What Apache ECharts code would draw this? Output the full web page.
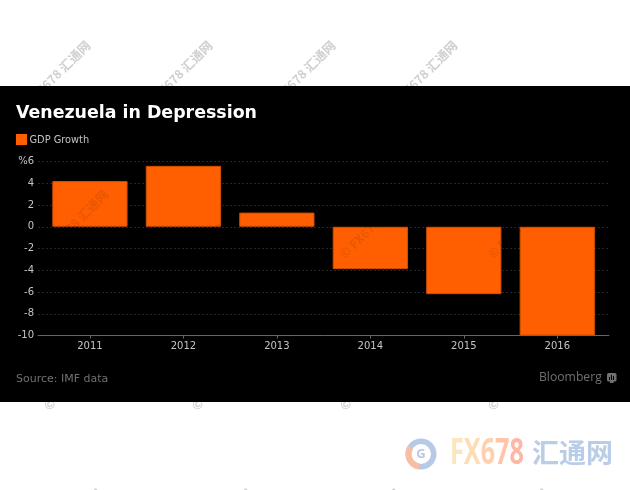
<!DOCTYPE html>
<html>
<head>
<meta charset="utf-8">
<style>
  html, body { margin: 0; padding: 0; background: #fff; }
  #chart { width: 630px; height: 490px; }
</style>
<script src="https://cdn.jsdelivr.net/npm/echarts@6/dist/echarts.min.js"></script>
</head>
<body>
<div id="chart"></div>
<script>
const years = ["2011", "2012", "2013", "2014", "2015", "2016"];
const gdpGrowth = [4.2, 5.6, 1.3, -3.9, -6.2, -10];
const yTicks = [-10, -8, -6, -4, -2, 0, 2, 4, 6];
const FONT = "DejaVu Sans";
const ORANGE = "#ff5f00";

const chart = echarts.init(document.getElementById("chart"), null, { renderer: "canvas" });

// page stamp, anchored at the end of the text and running up to the right
function stamp(x, y, overBars) {
  return {
    type: "text",
    x: x,
    y: y,
    rotation: Math.PI / 4,
    z: overBars ? 20 : -20,
    silent: true,
    style: {
      text: "© FX678 汇通网",
      font: "bold 12.5px 'Noto Sans CJK SC'",
      fill: overBars ? "rgba(0,0,0,0.09)" : "#d0d0d0",
      align: "right",
      verticalAlign: "middle",
    },
  };
}

const stamps = [];
[88, 210, 333, 455].forEach((x) => stamps.push(stamp(x, 43, false)));
[106, 256, 406, 554].forEach((x) => stamps.push(stamp(x, 192, true)));
[110, 258, 406, 554].forEach((x) => stamps.push(stamp(x, 344, false)));
[100, 250, 398, 546].forEach((x) => stamps.push(stamp(x, 491, false)));

// letter colours of the logo run from pale yellow to salmon
const logoRich = {
  a: { fill: "#fde6bb", font: "bold 36px 'Open Sans'" },
  b: { fill: "#fedcb4", font: "bold 36px 'Open Sans'" },
  c: { fill: "#fed0ad", font: "bold 36px 'Open Sans'" },
  d: { fill: "#ffc4a9", font: "bold 36px 'Open Sans'" },
  e: { fill: "#ffb7a5", font: "bold 36px 'Open Sans'" },
};

chart.setOption({
  backgroundColor: "#fff",
  animation: false,
  grid: [
    { left: 38, right: 21, top: 161.5, height: 174 },
    { left: 43.2, right: 26, top: 161.5, height: 174 },
  ],
  xAxis: [
    {
      gridIndex: 0,
      type: "value",
      min: 0,
      max: 1,
      axisLine: { onZero: false, lineStyle: { color: "#666", width: 1 } },
      axisTick: { show: false },
      axisLabel: { show: false },
      splitLine: { show: false },
    },
    {
      gridIndex: 1,
      type: "category",
      data: years,
      position: "bottom",
      axisLine: { show: false, onZero: false },
      axisTick: { show: true, alignWithLabel: true, length: 3, lineStyle: { color: "#666" } },
      axisLabel: { color: "#c4c4c4", fontFamily: FONT, fontSize: 10, margin: 6 },
    },
  ],
  yAxis: [
    {
      gridIndex: 0,
      type: "value",
      min: yTicks[0],
      max: yTicks[yTicks.length - 1],
      interval: 2,
      axisLine: { show: false },
      axisTick: { show: false },
      axisLabel: {
        color: "#c4c4c4",
        fontFamily: FONT,
        fontSize: 10,
        margin: 4,
        formatter: (v) => (v === 6 ? "%6" : String(v)),
      },
      splitLine: { lineStyle: { color: "#262626", type: [2, 2], width: 1 } },
    },
    {
      gridIndex: 1,
      type: "value",
      min: yTicks[0],
      max: yTicks[yTicks.length - 1],
      interval: 2,
      show: false,
      splitLine: { show: false },
    },
  ],
  series: [
    {
      name: "GDP Growth",
      type: "bar",
      xAxisIndex: 1,
      yAxisIndex: 1,
      data: gdpGrowth,
      barCategoryGap: "19.5%",
      z: 5,
      itemStyle: { color: ORANGE, borderColor: "#d04e00", borderWidth: 1 },
    },
  ],
  graphic: [
    ...stamps,
    { type: "rect", z: -10, silent: true, shape: { x: 0, y: 86, width: 630, height: 316 }, style: { fill: "#000" } },
    { type: "rect", z: 10, shape: { x: 16, y: 134, width: 11, height: 11 }, style: { fill: ORANGE } },
    { type: "text", z: 10, x: 16, y: 113.5, style: { text: "Venezuela in Depression", font: "bold 17.4px 'DejaVu Sans'", fill: "#fff", verticalAlign: "middle" } },
    { type: "text", z: 10, x: 29.5, y: 140, style: { text: "GDP Growth", font: "9.8px 'DejaVu Sans'", fill: "#c4c4c4", verticalAlign: "middle" } },
    { type: "text", z: 10, x: 16, y: 379.5, style: { text: "Source: IMF data", font: "11px 'DejaVu Sans'", fill: "#707070", verticalAlign: "middle" } },
    { type: "text", z: 10, x: 539, y: 378, style: { text: "Bloomberg", font: "12.2px 'Open Sans'", fill: "#707070", verticalAlign: "middle" } },
    // Bloomberg mark
    { type: "rect", z: 10, shape: { x: 607, y: 373, width: 9.5, height: 8.5, r: 1.5 }, style: { fill: "#707070" } },
    { type: "rect", z: 10, shape: { x: 610, y: 381, width: 3.5, height: 2 }, style: { fill: "#707070" } },
    { type: "rect", z: 11, shape: { x: 609, y: 377, width: 1, height: 3 }, style: { fill: "#000" } },
    { type: "rect", z: 11, shape: { x: 611, y: 375, width: 1, height: 5 }, style: { fill: "#000" } },
    { type: "rect", z: 11, shape: { x: 613, y: 376, width: 1, height: 4 }, style: { fill: "#000" } },
    // FX678 logo
    { type: "ring", z: 10, shape: { cx: 421, cy: 454, r: 15.5, r0: 10 }, style: { fill: "#b7c9e4" } },
    { type: "sector", z: 11, shape: { cx: 421, cy: 454, r: 15.5, r0: 9.5, startAngle: 1.7, endAngle: 3.7 }, style: { fill: "#f8bda3" } },
    { type: "text", z: 11, x: 421, y: 454, style: { text: "G", font: "bold 13px 'Open Sans'", fill: "#b7c9e4", align: "center", verticalAlign: "middle" } },
    {
      type: "text", z: 10, x: 450, y: 454, scaleX: 0.7,
      style: {
        text: "{a|F}{b|X}{c|6}{d|7}{e|8}",
        rich: logoRich,
        verticalAlign: "middle",
      },
    },
    { type: "text", z: 10, x: 532, y: 453, style: { text: "汇通网", font: "bold 27px 'Noto Sans CJK SC'", fill: "#b9cde6", verticalAlign: "middle" } },
  ],
});
</script>
</body>
</html>
